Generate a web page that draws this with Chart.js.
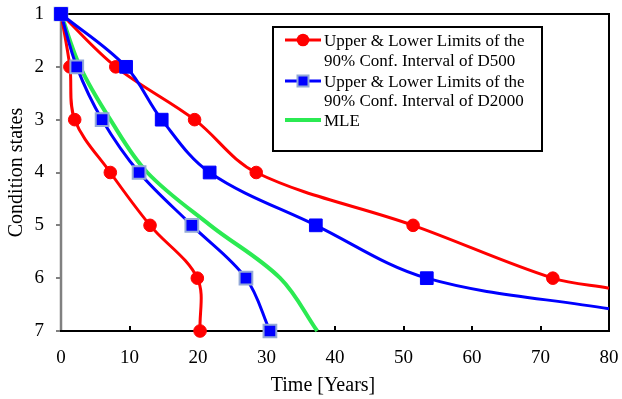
<!DOCTYPE html>
<html>
<head>
<meta charset="utf-8">
<script src="https://cdn.jsdelivr.net/npm/chart.js@4/dist/chart.umd.min.js"></script>
<style>
html,body{margin:0;padding:0;background:#fff;}
#wrap{width:622px;height:399px;position:relative;}
</style>
</head>
<body>
<div id="wrap"><canvas id="c" width="622" height="399"></canvas></div>
<script>
// ---- data ----
const conditionStates = [1, 2, 3, 4, 5, 6, 7];
const timeTicks = [0, 10, 20, 30, 40, 50, 60, 70, 80];
const d500Lower = [0, 1.3, 2.0, 7.2, 13.0, 19.9, 20.3];
const d500Upper = [0, 8.0, 19.5, 28.5, 51.4, 71.8];
const d500UpperEdge = [80, 6.19];     // where the curve leaves the plot
const d2000Lower = [0, 2.3, 6.0, 11.4, 19.1, 27.0, 30.5];
const d2000Upper = [0, 9.5, 14.7, 21.7, 37.2, 53.4];
const d2000UpperEdge = [80, 6.58];
const mle = [0, 2.8, 7.2, 12.6, 21.8, 32.0, 37.4];
const legendLabels = [
  ["Upper & Lower Limits of the", "90% Conf. Interval of D500"],
  ["Upper & Lower Limits of the", "90% Conf. Interval of D2000"],
  ["MLE"]
];
const xTitle = "Time [Years]";
const yTitle = "Condition states";

const RED = "#ff0000", BLUE = "#0000ff", GREEN = "#2bea52", LIGHT = "#93a9d8";
const FONT = "'Liberation Serif','Times New Roman',serif";

function pts(times, edge) {
  const p = times.map((t, i) => ({x: t, y: conditionStates[i]}));
  if (edge) p.push({x: edge[0], y: edge[1]});
  return p;
}
function radii(n, r, extra) {
  const a = new Array(n).fill(r);
  if (extra) a.push(0);
  return a;
}

const datasets = [
  {label: "blueUp", data: pts(d2000Upper, d2000UpperEdge), borderColor: BLUE, backgroundColor: BLUE,
   pointStyle: "rect", pointRadius: radii(d2000Upper.length, 9, true), pointBorderColor: BLUE, pointBorderWidth: 1,
   borderWidth: 3, order: 1},
  {label: "blueLow", data: pts(d2000Lower), borderColor: BLUE, backgroundColor: BLUE,
   pointStyle: "rect", pointRadius: radii(d2000Lower.length, 9, false), pointBorderColor: LIGHT, pointBorderWidth: 2,
   borderWidth: 3, order: 1},
  {label: "redUp", data: pts(d500Upper, d500UpperEdge), borderColor: RED, backgroundColor: RED,
   pointStyle: "circle", pointRadius: radii(d500Upper.length, 6.3, true), pointBorderColor: RED, pointBorderWidth: 1,
   borderWidth: 3, order: 2},
  {label: "redLow", data: pts(d500Lower), borderColor: RED, backgroundColor: RED,
   pointStyle: "circle", pointRadius: radii(d500Lower.length, 6.3, false), pointBorderColor: RED, pointBorderWidth: 1,
   borderWidth: 3, order: 2},
  {label: "mle", data: pts(mle), borderColor: GREEN, backgroundColor: GREEN,
   pointRadius: 0, borderWidth: 4, order: 3}
];
datasets.forEach(d => { d.tension = 0.35; d.clip = false; d.showLine = true; });

const frame = {
  id: "frame",
  beforeDatasetsDraw(chart) {
    const {ctx, chartArea: a, scales} = chart;
    ctx.save();
    ctx.lineCap = "butt";
    ctx.strokeStyle = "#000"; ctx.lineWidth = 2;
    timeTicks.forEach(t => {
      const x = Math.round(scales.x.getPixelForValue(t));
      ctx.beginPath(); ctx.moveTo(x, a.bottom); ctx.lineTo(x, a.bottom - 5); ctx.stroke();
    });
    ctx.strokeStyle = "#808080";
    conditionStates.forEach(s => {
      const y = Math.round(scales.y.getPixelForValue(s));
      ctx.beginPath(); ctx.moveTo(a.left, y); ctx.lineTo(a.left - 5, y); ctx.stroke();
    });
    ctx.strokeStyle = "#000"; ctx.lineWidth = 2;
    ctx.beginPath(); ctx.moveTo(a.left, a.top); ctx.lineTo(a.right, a.top); ctx.lineTo(a.right, a.bottom); ctx.stroke();
    ctx.beginPath(); ctx.moveTo(a.left - 1, a.bottom); ctx.lineTo(a.right + 1, a.bottom); ctx.stroke();
    ctx.strokeStyle = "#808080"; ctx.lineWidth = 2.5;
    ctx.beginPath(); ctx.moveTo(a.left, a.top); ctx.lineTo(a.left, a.bottom - 1); ctx.stroke();
    ctx.fillStyle = "#000";
    ctx.font = "20px " + FONT;
    ctx.textAlign = "center"; ctx.textBaseline = "middle";
    ctx.fillText(xTitle, 323, 386);
    ctx.translate(17, (a.top + a.bottom) / 2);
    ctx.rotate(-Math.PI / 2);
    ctx.fillText(yTitle, 0, 0);
    ctx.restore();
  },
  afterDatasetsDraw(chart) {
    const {ctx} = chart;
    ctx.save();
    ctx.fillStyle = "#fff";
    ctx.fillRect(273, 27, 269, 124);
    ctx.strokeStyle = "#000"; ctx.lineWidth = 2;
    ctx.strokeRect(273, 27, 269, 124);
    const rows = [
      {y: 40, color: RED, marker: "circle", base: [46, 66]},
      {y: 81, color: BLUE, marker: "rect", base: [86.5, 106]},
      {y: 120, color: GREEN, marker: null, base: [126]}
    ];
    rows.forEach((r, i) => {
      ctx.strokeStyle = r.color; ctx.lineWidth = r.marker ? 3 : 4;
      ctx.beginPath(); ctx.moveTo(285, r.y); ctx.lineTo(321, r.y); ctx.stroke();
      if (r.marker === "circle") {
        ctx.fillStyle = RED; ctx.beginPath(); ctx.arc(303, r.y, 6.3, 0, Math.PI * 2); ctx.fill();
      } else if (r.marker === "rect") {
        ctx.fillStyle = LIGHT; ctx.fillRect(296.5, r.y - 6.5, 13, 13);
        ctx.fillStyle = BLUE; ctx.fillRect(298.5, r.y - 4.5, 9, 9);
      }
      ctx.fillStyle = "#000";
      ctx.font = "17px " + FONT;
      ctx.textAlign = "left"; ctx.textBaseline = "alphabetic";
      legendLabels[i].forEach((t, k) => ctx.fillText(t, 324, r.base[k]));
    });
    ctx.restore();
  }
};

new Chart(document.getElementById("c"), {
  type: "scatter",
  data: {datasets},
  options: {
    responsive: false, animation: false,
    layout: {padding: {left: 0, top: 14, right: 13, bottom: 0}},
    plugins: {legend: {display: false}, tooltip: {enabled: false}},
    scales: {
      x: {type: "linear", min: 0, max: 80,
          afterFit(s) { s.height = 68; s.paddingLeft = 0; s.paddingRight = 0; },
          afterBuildTicks(s) { s.ticks = timeTicks.map(v => ({value: v})); },
          grid: {display: false, drawTicks: false}, border: {display: false},
          ticks: {color: "#000", padding: 16, font: {family: FONT, size: 19}, maxRotation: 0}},
      y: {type: "linear", min: 1, max: 7, reverse: true,
          afterFit(s) { s.width = 61; s.paddingTop = 0; s.paddingBottom = 0; },
          afterBuildTicks(s) { s.ticks = conditionStates.map(v => ({value: v})); },
          grid: {display: false, drawTicks: false}, border: {display: false},
          ticks: {color: "#000", padding: 17, font: {family: FONT, size: 19}}}
    }
  },
  plugins: [frame]
});
</script>
</body>
</html>
